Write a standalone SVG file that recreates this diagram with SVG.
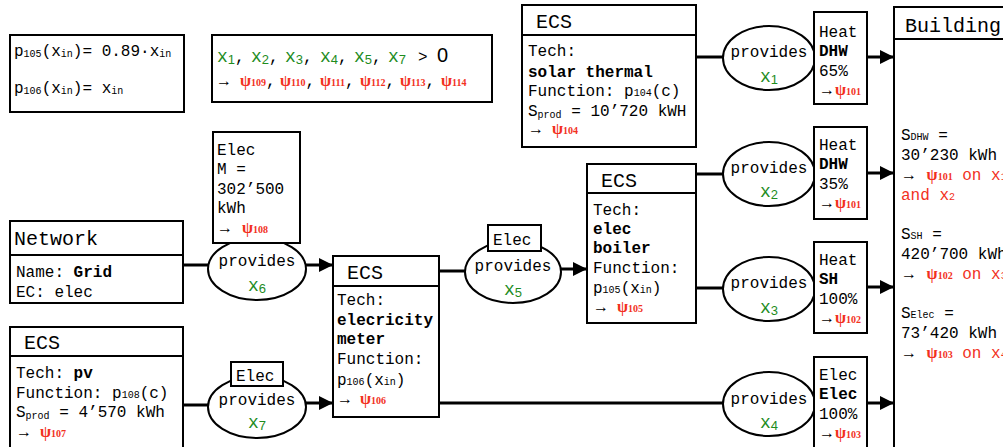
<svg xmlns="http://www.w3.org/2000/svg" width="1003" height="447" viewBox="0 0 1003 447">
  <defs>
    <marker id="arrow" markerUnits="userSpaceOnUse" markerWidth="15" markerHeight="14" refX="14" refY="7" orient="auto">
      <path d="M0,0 L14,7 L0,14 z" fill="#000"/>
    </marker>
  </defs>
  <style>
    text { font-family: "Liberation Mono", "DejaVu Sans Mono", monospace; font-size: 16px; fill: #000; }
    .h { font-size: 20px; }
    .b { font-weight: bold; }
    .s { font-size: 10px; }
    .g { fill: #1e8c1e; }
    .gx { font-size: 18px; }
    .gs { font-family: "Liberation Sans", Arial, sans-serif; font-size: 13px; }
    .r { fill: #f2311d; }
    .ar { font-family: "Liberation Serif", "DejaVu Serif", serif; font-size: 16px; }
    .psi { font-family: "Liberation Serif", "Times New Roman", serif; font-weight: bold; fill: #f2311d; font-size: 16px; }
    .psn { font-family: "Liberation Serif", "Times New Roman", serif; font-weight: bold; fill: #f2311d; font-size: 10px; }
    .box { fill: #fff; stroke: #000; stroke-width: 2; }
    .div { stroke: #000; stroke-width: 2; }
    .ell { fill: #fff; stroke: #000; stroke-width: 2; }
    .line { stroke: #000; stroke-width: 3; fill: none; }
    .arr { marker-end: url(#arrow); }
    .mid { text-anchor: middle; }
  </style>

  <!-- connectors -->
  <g id="connectors">
    <line class="line" x1="695" y1="57" x2="726" y2="57"/>
    <line class="line arr" x1="867" y1="57" x2="894" y2="57"/>
    <line class="line" x1="696" y1="174" x2="726" y2="174"/>
    <line class="line arr" x1="867" y1="173" x2="894" y2="173"/>
    <line class="line" x1="696" y1="288" x2="726" y2="288"/>
    <line class="line arr" x1="867" y1="287" x2="894" y2="287"/>
    <line class="line" x1="439" y1="403" x2="726" y2="403"/>
    <line class="line arr" x1="867" y1="403" x2="894" y2="403"/>
    <line class="line" x1="183" y1="265" x2="211" y2="265"/>
    <line class="line arr" x1="305" y1="265" x2="333" y2="265"/>
    <line class="line" x1="439" y1="271" x2="468" y2="271"/>
    <line class="line arr" x1="560" y1="269" x2="587" y2="269"/>
    <line class="line" x1="183" y1="405" x2="211" y2="405"/>
    <line class="line arr" x1="305" y1="403" x2="333" y2="403"/>
  </g>

  <!-- function definitions -->
  <g id="functions">
    <rect class="box" x="10" y="35" width="174" height="77"/>
    <text x="14" y="56">p<tspan class="s" dy="1">105</tspan><tspan dy="-1">(x</tspan><tspan class="s" dy="1">in</tspan><tspan dy="-1">)= 0.89·x</tspan><tspan class="s" dy="1">in</tspan></text>
    <text x="14" y="93">p<tspan class="s" dy="1">106</tspan><tspan dy="-1">(x</tspan><tspan class="s" dy="1">in</tspan><tspan dy="-1">)= x</tspan><tspan class="s" dy="1">in</tspan></text>
  </g>

  <!-- positivity constraints -->
  <g id="constraints">
    <rect class="box" x="212" y="35" width="280" height="67"/>
    <text y="62"><tspan class="g gx" x="217">x</tspan><tspan class="g gs" dy="2">1</tspan><tspan dy="-2">,</tspan><tspan class="g gx" x="251">x</tspan><tspan class="g gs" dy="2">2</tspan><tspan dy="-2">,</tspan><tspan class="g gx" x="285">x</tspan><tspan class="g gs" dy="2">3</tspan><tspan dy="-2">,</tspan><tspan class="g gx" x="320">x</tspan><tspan class="g gs" dy="2">4</tspan><tspan dy="-2">,</tspan><tspan class="g gx" x="354">x</tspan><tspan class="g gs" dy="2">5</tspan><tspan dy="-2">,</tspan><tspan class="g gx" x="388">x</tspan><tspan class="g gs" dy="2">7</tspan><tspan dy="-2" x="418">&gt;</tspan><tspan x="437" style="font-family:'Liberation Sans',Arial,sans-serif;font-size:20px">0</tspan></text>
    <text y="86"><tspan class="ar" x="216">→</tspan><tspan class="psi" x="240">ψ</tspan><tspan class="psn">109</tspan><tspan>,</tspan><tspan class="psi" x="280">ψ</tspan><tspan class="psn">110</tspan><tspan>,</tspan><tspan class="psi" x="320">ψ</tspan><tspan class="psn">111</tspan><tspan>,</tspan><tspan class="psi" x="360">ψ</tspan><tspan class="psn">112</tspan><tspan>,</tspan><tspan class="psi" x="400">ψ</tspan><tspan class="psn">113</tspan><tspan>,</tspan><tspan class="psi" x="441">ψ</tspan><tspan class="psn">114</tspan></text>
  </g>

  <!-- solar thermal conversion system -->
  <g id="ecs-solar">
    <rect class="box" x="522" y="5" width="174" height="142"/>
    <line class="div" x1="522" y1="35" x2="696" y2="35"/>
    <text class="h" x="536" y="28">ECS</text>
    <text x="528" y="56">Tech:</text>
    <text class="b" x="528" y="77">solar thermal</text>
    <text x="528" y="96">Function: p<tspan class="s">104</tspan>(c)</text>
    <text x="528" y="116">S<tspan class="s" dy="2">prod</tspan><tspan dy="-2"> = 10’720 kWH</tspan></text>
    <text x="528" y="134"><tspan class="ar">→</tspan><tspan class="psi" x="552">ψ</tspan><tspan class="psn">104</tspan></text>
  </g>

  <!-- flow x1 -->
  <g id="flow-x1">
    <ellipse class="ell" cx="769" cy="58" rx="46" ry="32"/>
    <text class="mid" x="769" y="57">provides</text>
    <text class="mid" x="769" y="82"><tspan class="g gx">x</tspan><tspan class="g gs" dy="2">1</tspan></text>
    <rect class="box" x="814" y="12" width="53" height="92"/>
    <text x="819" y="37">Heat</text>
    <text class="b" x="819" y="56">DHW</text>
    <text x="819" y="76">65%</text>
    <text x="819" y="95"><tspan class="ar">→</tspan><tspan class="psi">ψ</tspan><tspan class="psn">101</tspan></text>
  </g>

  <!-- flow x2 -->
  <g id="flow-x2">
    <ellipse class="ell" cx="769" cy="174" rx="46" ry="32"/>
    <text class="mid" x="769" y="173">provides</text>
    <text class="mid" x="769" y="197"><tspan class="g gx">x</tspan><tspan class="g gs" dy="2">2</tspan></text>
    <rect class="box" x="814" y="127" width="53" height="92"/>
    <text x="819" y="150">Heat</text>
    <text class="b" x="819" y="169">DHW</text>
    <text x="819" y="189">35%</text>
    <text x="819" y="208"><tspan class="ar">→</tspan><tspan class="psi">ψ</tspan><tspan class="psn">101</tspan></text>
  </g>

  <!-- flow x3 -->
  <g id="flow-x3">
    <ellipse class="ell" cx="769" cy="289" rx="46" ry="32"/>
    <text class="mid" x="769" y="288">provides</text>
    <text class="mid" x="769" y="313"><tspan class="g gx">x</tspan><tspan class="g gs" dy="2">3</tspan></text>
    <rect class="box" x="814" y="242" width="53" height="91"/>
    <text x="819" y="265">Heat</text>
    <text class="b" x="819" y="284">SH</text>
    <text x="819" y="304">100%</text>
    <text x="819" y="323"><tspan class="ar">→</tspan><tspan class="psi">ψ</tspan><tspan class="psn">102</tspan></text>
  </g>

  <!-- flow x4 -->
  <g id="flow-x4">
    <ellipse class="ell" cx="769" cy="404" rx="46" ry="32"/>
    <text class="mid" x="769" y="404">provides</text>
    <text class="mid" x="769" y="428"><tspan class="g gx">x</tspan><tspan class="g gs" dy="2">4</tspan></text>
    <rect class="box" x="814" y="357" width="53" height="100"/>
    <text x="819" y="380">Elec</text>
    <text class="b" x="819" y="399">Elec</text>
    <text x="819" y="419">100%</text>
    <text x="819" y="438"><tspan class="ar">→</tspan><tspan class="psi">ψ</tspan><tspan class="psn">103</tspan></text>
  </g>

  <!-- building demand -->
  <g id="building">
    <rect class="box" x="894" y="7" width="130" height="450"/>
    <line class="div" x1="894" y1="39" x2="1003" y2="39"/>
    <text class="h" x="905" y="32">Building</text>
    <text x="901" y="140">S<tspan class="s">DHW</tspan> =</text>
    <text x="901" y="160">30’230 kWh</text>
    <text x="901" y="180"><tspan class="ar">→</tspan> <tspan class="psi">ψ</tspan><tspan class="psn">101</tspan><tspan class="r"> on x</tspan><tspan class="r s">1</tspan></text>
    <text class="r" x="901" y="200">and x<tspan class="s">2</tspan></text>
    <text x="901" y="239">S<tspan class="s">SH</tspan> =</text>
    <text x="901" y="259">420’700 kWh</text>
    <text x="901" y="279"><tspan class="ar">→</tspan> <tspan class="psi">ψ</tspan><tspan class="psn">102</tspan><tspan class="r"> on x</tspan><tspan class="r s">3</tspan></text>
    <text x="901" y="318">S<tspan class="s">Elec</tspan> =</text>
    <text x="901" y="338">73’420 kWh</text>
    <text x="901" y="358"><tspan class="ar">→</tspan> <tspan class="psi">ψ</tspan><tspan class="psn">103</tspan><tspan class="r"> on x</tspan><tspan class="r s">4</tspan></text>
  </g>

  <!-- elec boiler conversion system -->
  <g id="ecs-boiler">
    <rect class="box" x="587" y="164" width="109" height="159"/>
    <line class="div" x1="587" y1="193" x2="696" y2="193"/>
    <text class="h" x="601" y="187">ECS</text>
    <text x="593" y="215">Tech:</text>
    <text class="b" x="593" y="234">elec</text>
    <text class="b" x="593" y="253">boiler</text>
    <text x="593" y="273">Function:</text>
    <text x="593" y="293">p<tspan class="s">105</tspan>(x<tspan class="s">in</tspan>)</text>
    <text x="593" y="312"><tspan class="ar">→</tspan><tspan class="psi" x="617">ψ</tspan><tspan class="psn">105</tspan></text>
  </g>

  <!-- flow x5 -->
  <g id="flow-x5">
    <ellipse class="ell" cx="513" cy="272" rx="48" ry="31"/>
    <text class="mid" x="513" y="271">provides</text>
    <text class="mid" x="513" y="295"><tspan class="g gx">x</tspan><tspan class="g gs" dy="2">5</tspan></text>
    <rect class="box" x="488" y="225" width="53" height="26"/>
    <text x="493" y="245">Elec</text>
  </g>

  <!-- electricity meter conversion system -->
  <g id="ecs-meter">
    <rect class="box" x="333" y="256" width="106" height="161"/>
    <line class="div" x1="333" y1="286" x2="439" y2="286"/>
    <text class="h" x="347" y="279">ECS</text>
    <text x="337" y="305">Tech:</text>
    <text class="b" x="337" y="325">elecricity</text>
    <text class="b" x="337" y="344">meter</text>
    <text x="337" y="364">Function:</text>
    <text x="337" y="385">p<tspan class="s">106</tspan>(x<tspan class="s">in</tspan>)</text>
    <text x="337" y="404"><tspan class="ar">→</tspan><tspan class="psi" x="360">ψ</tspan><tspan class="psn">106</tspan></text>
  </g>

  <!-- grid network -->
  <g id="network">
    <rect class="box" x="10" y="221" width="173" height="82"/>
    <line class="div" x1="10" y1="255" x2="183" y2="255"/>
    <text class="h" x="14" y="245">Network</text>
    <text x="16" y="277">Name: <tspan class="b">Grid</tspan></text>
    <text x="16" y="297">EC: elec</text>
  </g>

  <!-- flow x6 -->
  <g id="flow-x6">
    <ellipse class="ell" cx="257" cy="269" rx="49" ry="31"/>
    <text class="mid" x="257" y="266">provides</text>
    <text class="mid" x="257" y="291"><tspan class="g gx">x</tspan><tspan class="g gs" dy="2">6</tspan></text>
    <rect class="box" x="213" y="132" width="87" height="111"/>
    <text x="217" y="155">Elec</text>
    <text x="217" y="174">M =</text>
    <text x="217" y="194">302’500</text>
    <text x="217" y="213">kWh</text>
    <text x="217" y="233"><tspan class="ar">→</tspan><tspan class="psi" x="242">ψ</tspan><tspan class="psn">108</tspan></text>
  </g>

  <!-- pv conversion system -->
  <g id="ecs-pv">
    <rect class="box" x="10" y="327" width="173" height="130"/>
    <line class="div" x1="10" y1="356" x2="183" y2="356"/>
    <text class="h" x="24" y="349">ECS</text>
    <text x="16" y="378">Tech: <tspan class="b">pv</tspan></text>
    <text x="16" y="398">Function: p<tspan class="s">108</tspan>(c)</text>
    <text x="16" y="417">S<tspan class="s" dy="2">prod</tspan><tspan dy="-2"> = 4’570 kWh</tspan></text>
    <text x="16" y="437"><tspan class="ar">→</tspan><tspan class="psi" x="40">ψ</tspan><tspan class="psn">107</tspan></text>
  </g>

  <!-- flow x7 -->
  <g id="flow-x7">
    <ellipse class="ell" cx="257" cy="407" rx="49" ry="31"/>
    <text class="mid" x="257" y="405">provides</text>
    <text class="mid" x="257" y="428"><tspan class="g gx">x</tspan><tspan class="g gs" dy="2">7</tspan></text>
    <rect class="box" x="231" y="362" width="52" height="24"/>
    <text x="236" y="381">Elec</text>
  </g>
</svg>
